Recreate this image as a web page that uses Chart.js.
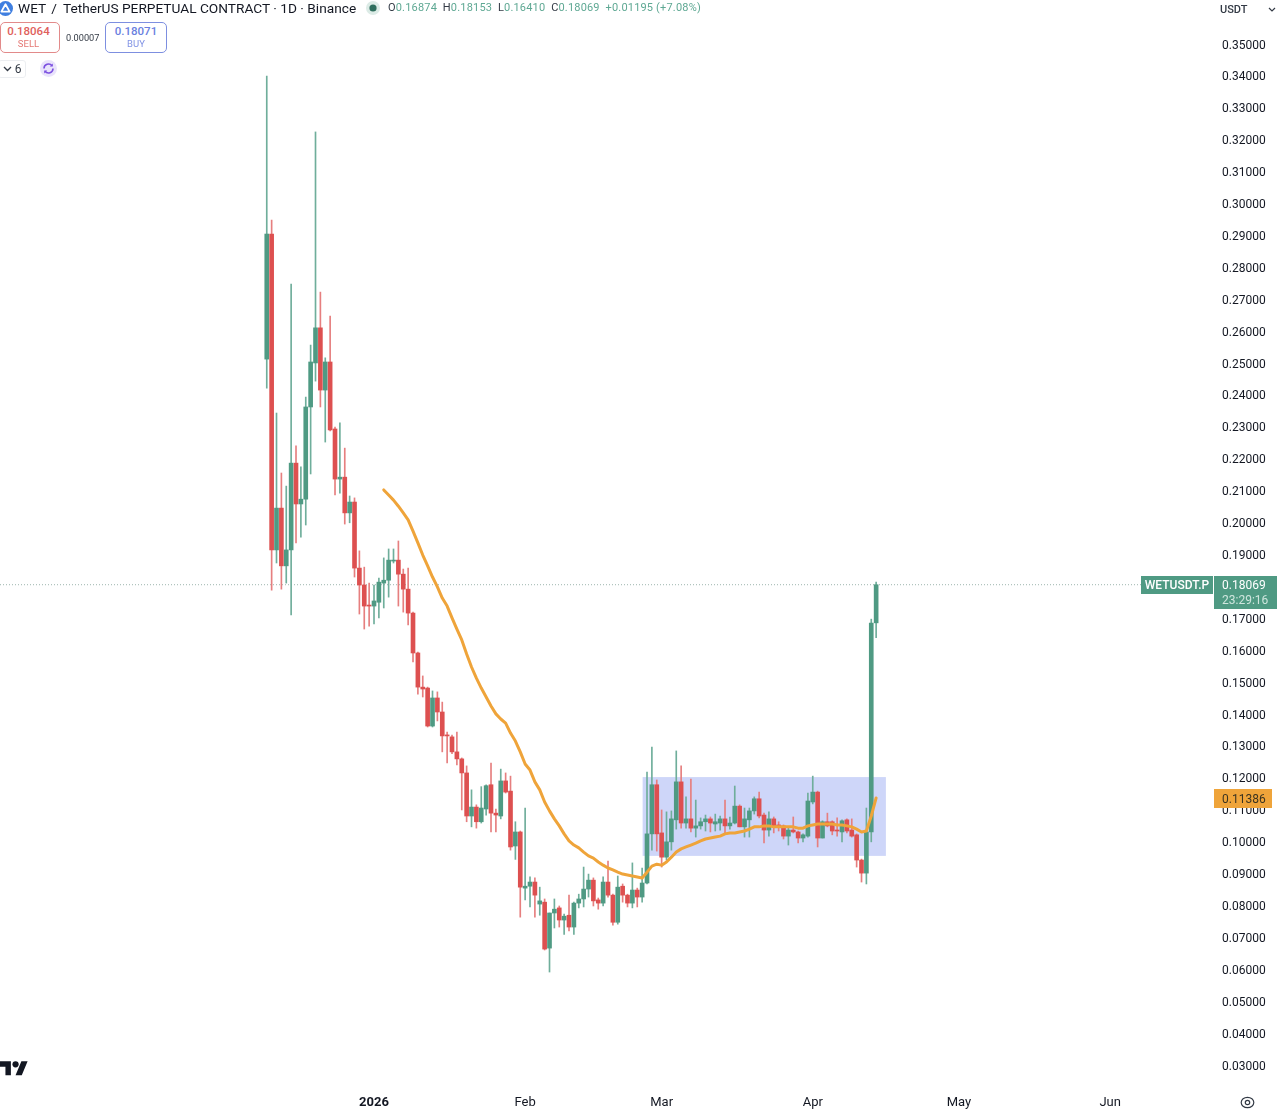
<!DOCTYPE html>
<html><head><meta charset="utf-8">
<script src="https://cdn.jsdelivr.net/npm/chart.js@4"></script>
<style>
html,body{margin:0;padding:0;background:#fff;width:1280px;height:1114px;overflow:hidden;font-family:Roboto,sans-serif;color:#131722}
canvas{position:absolute;left:0;top:0}
.a{position:absolute;white-space:nowrap}
.box{position:absolute;box-sizing:border-box;background:#fff;border-radius:5px;text-align:center}
.box b{display:block;font-weight:500;font-size:11.5px;line-height:13px;margin-top:2px}
.box i{display:block;font-style:normal;font-size:9.5px;line-height:11px;opacity:.85}
</style></head><body>
<canvas id="c" width="1280" height="1114"></canvas>

<svg class="a" style="left:-2px;top:1px" width="15" height="15" viewBox="0 0 15 15"><circle cx="7.5" cy="7.5" r="7.5" fill="#3f7fe0"/><path d="M7.5 3.2 L11.6 10.6 H3.4 Z" fill="none" stroke="#fff" stroke-width="1.8" stroke-linejoin="round"/></svg>
<div class="a" style="left:18px;top:0;font-size:13.7px;line-height:17px">WET<span style="margin-left:5px">/</span><span style="margin-left:6px">TetherUS PERPETUAL CONTRACT · 1D · Binance</span></div>
<svg class="a" style="left:365px;top:0" width="16" height="16"><circle cx="8" cy="8" r="7" fill="#dcebe6"/><circle cx="8" cy="8" r="3.6" fill="#2f6f5e"/></svg>
<div class="a" style="left:388px;top:1px;font-size:11px;line-height:14px;letter-spacing:.18px;color:#5ea893"><span style="color:#333a45">O</span>0.16874 &nbsp;<span style="color:#333a45">H</span>0.18153 &nbsp;<span style="color:#333a45">L</span>0.16410 &nbsp;<span style="color:#333a45">C</span>0.18069 &nbsp;+0.01195 (+7.08%)</div>

<div class="box" style="left:0;top:22px;width:60px;height:31px;border:1px solid #e28a8a;color:#e0605c"><b style="margin-left:-3px">0.18064</b><i style="margin-left:-3px">SELL</i></div>
<div class="a" style="left:66px;top:32px;font-size:9.2px;line-height:12px;color:#333a45">0.00007</div>
<div class="box" style="left:105px;top:22px;width:62px;height:31px;border:1px solid #7d8fe0;color:#6a7fe0"><b>0.18071</b><i>BUY</i></div>
<div class="box" style="left:-2px;top:60px;width:28px;height:18px;border:1px solid #eceef1;border-radius:3px;font-size:12px;line-height:17px;color:#333a45"><svg width="9" height="6" viewBox="0 0 9 6" style="margin-right:3px;vertical-align:1px"><path d="M1 1 L4.5 4.5 L8 1" fill="none" stroke="#333a45" stroke-width="1.3"/></svg>6</div>
<svg class="a" style="left:40px;top:60px" width="17" height="17" viewBox="0 0 17 17"><circle cx="8.5" cy="8.5" r="8.5" fill="#e9e3fb"/><path d="M4 8.5a4.5 4.5 0 0 1 8-2.8M13 8.5a4.5 4.5 0 0 1-8 2.8" fill="none" stroke="#7b4fe0" stroke-width="1.6"/><path d="M12.8 3.6v3h-3zM4.2 13.4v-3h3z" fill="#7b4fe0"/></svg>

<div class="a" style="left:1220px;top:3px;font-size:11px;line-height:13px;font-weight:500;color:#333a45">USDT</div>
<svg class="a" style="left:1268px;top:7px" width="8" height="5" viewBox="0 0 8 5"><path d="M1 1 L4 4 L7 1" fill="none" stroke="#333a45" stroke-width="1.2"/></svg>

<svg class="a" style="left:0;top:1058px" width="28" height="22" viewBox="0 0 36 28"><path d="M14 22H7V11H0V4h14v18zM28 22h-8l7.5-18h8L28 22z" fill="#131722"/><circle cx="20" cy="8" r="4" fill="#131722"/></svg>
<svg class="a" style="left:1240px;top:1095px" width="15" height="15" viewBox="0 0 15 15"><circle cx="7.5" cy="7.5" r="2.2" fill="none" stroke="#333a45" stroke-width="1.2"/><ellipse cx="7.5" cy="7.5" rx="6.3" ry="5.2" fill="none" stroke="#333a45" stroke-width="1.2"/></svg>

<script>
// Daily candles, first candle is 10 Dec 2025 (22 days before 1 Jan 2026)
const firstDay = -22;
const opens = [.2514,.2906,.1916,.2047,.1866,.1916,.2188,.2060,.2075,.2364,
.2502,.2612,.2417,.2505,.2295,.2138,.2144,.2032,.2066,.1859,
.1806,.1743,.1740,.1752,.1812,.1821,.1881,.1884,.1840,.1793,
.1718,.1593,.1486,.1483,.1364,.1452,.1408,.1336,.1330,.1283,
.1261,.1217,.1082,.1110,.1064,.1104,.1180,.1091,.1082,.1192,
.1160,.0988,.1032,.0856,.0862,.0875,.0806,.0812,.0668,.0778,
.0794,.0756,.0771,.0734,.0809,.0822,.0853,.0881,.0819,.0809,
.0875,.0834,.0749,.0862,.0834,.0809,.0850,.0828,.0872,.1026,
.1180,.1029,.0953,.1001,.1070,.1189,.1060,.1073,.1044,.1051,
.1064,.1073,.1057,.1060,.1073,.1051,.1060,.1113,.1048,.1070,
.1098,.1136,.1085,.1038,.1073,.1054,.1051,.1019,.1038,.1032,
.1013,.1019,.1126,.1157,.1013,.1064,.1064,.1038,.1032,.1070,
.1038,.1023,.0944,.0903,.1032,.16874];
const closes = [.2906,.1916,.2047,.1866,.1916,.2188,.2060,.2075,.2364,.2505,
.2612,.2417,.2505,.2292,.2138,.2144,.2032,.2066,.1859,.1806,
.1740,.1740,.1756,.1815,.1821,.1884,.1884,.1840,.1793,.1718,
.1593,.1486,.1480,.1364,.1452,.1408,.1333,.1333,.1283,.1261,
.1217,.1082,.1110,.1064,.1107,.1177,.1091,.1085,.1192,.1157,
.0985,.1032,.0859,.0862,.0875,.0834,.0816,.0665,.0778,.0790,
.0756,.0768,.0734,.0809,.0822,.0853,.0881,.0816,.0809,.0875,
.0834,.0749,.0859,.0834,.0809,.0850,.0828,.0872,.1026,.1180,
.1026,.0953,.1001,.1073,.1189,.1060,.1073,.1044,.1051,.1064,
.1073,.1060,.1064,.1073,.1051,.1060,.1113,.1048,.1073,.1098,
.1136,.1082,.1038,.1073,.1051,.1048,.1019,.1038,.1032,.1013,
.1023,.1129,.1157,.1013,.1064,.1051,.1035,.1035,.1067,.1035,
.1019,.0944,.0903,.1032,.1687,.18069];
const highs = [.3401,.2950,.2345,.2157,.2116,.2749,.2242,.2176,.2395,.2558,
.3226,.2724,.2518,.2649,.2301,.2314,.2235,.2085,.2079,.1913,
.1862,.1812,.1806,.1828,.1891,.1919,.1919,.1944,.1856,.1859,
.1721,.1596,.1521,.1486,.1474,.1471,.1439,.1345,.1336,.1345,
.1264,.1239,.1164,.1117,.1174,.1180,.1248,.1104,.1229,.1217,
.1207,.1064,.1035,.1107,.0891,.0888,.0859,.0822,.0778,.0822,
.0800,.0775,.0834,.0812,.0837,.0922,.0900,.0888,.0825,.0891,
.0941,.0837,.0894,.0869,.0837,.0935,.0856,.0919,.1220,.1298,
.1195,.1101,.1095,.1098,.1286,.1239,.1142,.1198,.1132,.1076,
.1085,.1079,.1088,.1082,.1132,.1079,.1176,.1117,.1107,.1107,
.1142,.1157,.1091,.1095,.1079,.1064,.1054,.1048,.1079,.1035,
.1026,.1154,.1207,.1160,.1067,.1091,.1067,.1076,.1070,.1073,
.1073,.1026,.0947,.1107,.1699,.18153];
const lows = [.2423,.1790,.1875,.1793,.1812,.1712,.1938,.1956,.1994,.2154,
.2445,.2364,.2254,.2289,.2088,.2094,.1997,.2001,.1831,.1715,
.1668,.1677,.1684,.1703,.1734,.1768,.1875,.1740,.1721,.1681,
.1565,.1464,.1455,.1361,.1361,.1380,.1283,.1248,.1277,.1242,
.1101,.1064,.1048,.1044,.1060,.1085,.1032,.1032,.1073,.1154,
.0975,.0946,.0765,.0819,.0797,.0765,.0771,.0662,.0593,.0731,
.0734,.0711,.0722,.0711,.0794,.0797,.0828,.0800,.0790,.0800,
.0828,.0740,.0743,.0812,.0797,.0794,.0797,.0812,.0869,.0975,
.0972,.0922,.0944,.0975,.1041,.1044,.1044,.1032,.1016,.1041,
.1035,.1032,.1035,.1038,.1029,.1041,.1057,.1048,.1016,.1016,
.1088,.1076,.0998,.1019,.1029,.1035,.1010,.0991,.1029,.0998,
.1001,.1016,.1120,.0985,.1013,.1048,.1023,.1019,.1001,.1029,
.1016,.0922,.0875,.0869,.1001,.16410];
// Moving average, starts 3 Jan 2026
const maFirstDay = 2;
const maValues = [.2104,.2088,.2072,.2053,.2032,.2010,.1975,.1938,.1900,.1866,
.1831,.1800,.1765,.1740,.1703,.1668,.1634,.1590,.1549,.1514,
.1483,.1455,.1427,.1402,.1386,.1373,.1342,.1317,.1283,.1245,
.1226,.1189,.1164,.1126,.1098,.1073,.1051,.1026,.1004,.0991,
.0982,.0969,.0957,.0950,.0938,.0928,.0919,.0913,.0906,.0900,
.0897,.0894,.0891,.0888,.0906,.0925,.0931,.0928,.0938,.0953,
.0969,.0979,.0985,.0991,.0997,.1004,.1010,.1013,.1016,.1019,
.1026,.1029,.1029,.1032,.1035,.1041,.1048,.1048,.1051,.1051,
.1048,.1048,.1048,.1048,.1048,.1044,.1044,.1051,.1054,.1057,
.1057,.1057,.1057,.1054,.1054,.1051,.1048,.1041,.1032,.1035,
.1082,.11386];
// Highlighted range box
const zoneStartDay = 55.1, zoneEndDay = 105.0, zoneLow = .0957, zoneHigh = .1204;
// Axes
const xTickDays = [0,31,59,90,120,151];
const xTickLabels = ['2026','Feb','Mar','Apr','May','Jun'];
const yTickLabels = ['0.35000','0.34000','0.33000','0.32000','0.31000','0.30000','0.29000','0.28000','0.27000','0.26000','0.25000','0.24000','0.23000','0.22000','0.21000','0.20000','0.19000','0.18000','0.17000','0.16000','0.15000','0.14000','0.13000','0.12000','0.11000','0.10000','0.09000','0.08000','0.07000','0.06000','0.05000','0.04000','0.03000'];
const xMin = -76.72, xMax = 172.1, yMin = 0.02358, yMax = 0.36395;
const lastPrice = 0.18069, maLast = 0.11386;
const lastPriceText = '0.18069', countdownText = '23:29:16', symbolText = 'WETUSDT.P', maText = '0.11386';

const GREEN='#4f9a83', RED='#dd5050', GREENW='#6fae9b', REDW='#e67f7f', ORANGE='#efa43a';
const up = i => closes[i] >= opens[i];
const dayOf = i => firstDay + i;

const decor = {
  id:'decor',
  beforeDatasetsDraw(chart){
    const {ctx,scales:{x,y}}=chart;
    const x0=x.getPixelForValue(zoneStartDay), x1=x.getPixelForValue(zoneEndDay);
    const y0=y.getPixelForValue(zoneHigh), y1=y.getPixelForValue(zoneLow);
    ctx.save(); ctx.fillStyle='#ced6f9'; ctx.fillRect(x0,y0,x1-x0,y1-y0); ctx.restore();
  },
  afterDraw(chart){
    const {ctx,scales:{y}}=chart;
    const py=Math.round(y.getPixelForValue(lastPrice));
    const my=Math.round(y.getPixelForValue(maLast));
    ctx.save();
    ctx.textBaseline='middle';
    // MA tag
    ctx.fillStyle=ORANGE; ctx.fillRect(1214,my-9,58,19);
    ctx.fillStyle='#3a3320'; ctx.font='12px Roboto'; ctx.textAlign='left';
    ctx.fillText(maText,1222,my+2);
    // symbol tag
    ctx.fillStyle=GREEN; ctx.fillRect(1141,py-9,72,18);
    ctx.fillStyle='#fff'; ctx.font='500 12px Roboto'; ctx.textAlign='center';
    ctx.fillText(symbolText,1177,py+1);
    // price tag
    ctx.fillStyle=GREEN; ctx.fillRect(1214,py-9,63,33);
    ctx.fillStyle='#fff'; ctx.font='12px Roboto'; ctx.textAlign='left';
    ctx.fillText(lastPriceText,1222,py+1);
    ctx.fillStyle='#cfe6de'; ctx.fillText(countdownText,1222,py+16);
    ctx.restore();
  }
};

new Chart(document.getElementById('c'),{
  type:'bar',
  data:{datasets:[
    {type:'line',order:1,data:maValues.map((v,i)=>({x:maFirstDay+i,y:v})),borderColor:ORANGE,borderWidth:3,pointRadius:0,tension:0,borderCapStyle:'round',borderJoinStyle:'round'},
    {type:'line',order:4,data:[{x:xMin,y:lastPrice},{x:xMax,y:lastPrice}],borderColor:'#9db5ae',borderWidth:1,borderDash:[1,2],pointRadius:0},
    {type:'bar',order:2,grouped:false,barThickness:4,minBarLength:1,borderWidth:0,
      data:opens.map((o,i)=>({x:dayOf(i),y:[o,closes[i]]})),
      backgroundColor:opens.map((o,i)=>up(i)?GREEN:RED)},
    {type:'bar',order:3,grouped:false,barThickness:1,borderWidth:0,
      data:highs.map((h,i)=>({x:dayOf(i),y:[lows[i],h]})),
      backgroundColor:opens.map((o,i)=>up(i)?GREENW:REDW)}
  ]},
  options:{
    responsive:false,animation:false,devicePixelRatio:1,
    layout:{padding:0},
    plugins:{legend:{display:false},tooltip:{enabled:false}},
    scales:{
      x:{type:'linear',offset:false,min:xMin,max:xMax,
        grid:{display:false,drawTicks:false},border:{display:false},
        afterBuildTicks(a){a.ticks=xTickDays.map(v=>({value:v}));},
        afterFit(a){a.height=28;a.paddingLeft=0;a.paddingRight=0;},
        ticks:{autoSkip:false,maxRotation:0,padding:9,color:'#131722',
          font:c=>(c.tick&&c.tick.value===0)?{family:'Roboto',size:13,weight:'bold'}:{family:'Roboto',size:13},
          callback:v=>xTickLabels[xTickDays.indexOf(v)]}},
      y:{type:'linear',position:'right',min:yMin,max:yMax,
        grid:{display:false,drawTicks:false},border:{display:false},
        afterBuildTicks(a){a.ticks=yTickLabels.map(s=>({value:parseFloat(s)}));},
        afterFit(a){
          a.width=67;a.paddingTop=0;a.paddingBottom=0;
          if(!a._shifted){
            a._shifted=true;
            const f=a._computeLabelItems;
            a._computeLabelItems=function(ca){const it=f.call(this,ca);it.forEach(i=>{i.options.translation[1]+=1;});return it;};
          }
        },
        ticks:{autoSkip:false,padding:9,color:'#131722',font:{family:'Roboto',size:12},
          callback:v=>yTickLabels[yTickLabels.findIndex(s=>Math.abs(parseFloat(s)-v)<1e-6)]}}
    }
  },
  plugins:[decor]
});
</script>
</body></html>
